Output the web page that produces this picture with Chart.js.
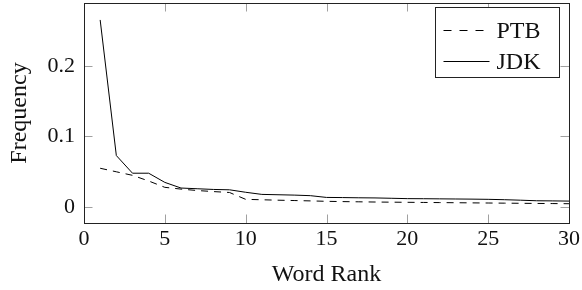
<!DOCTYPE html>
<html>
<head>
<meta charset="utf-8">
<script src="https://cdn.jsdelivr.net/npm/chart.js@4.4.1/dist/chart.umd.min.js"></script>
<style>
  html, body { margin: 0; padding: 0; background: #fff; }
  #wrap { width: 582px; height: 290px; }
</style>
</head>
<body>
<div id="wrap"><canvas id="freqChart"></canvas></div>
<script>
/* ===== data ===== */

const wordRanks = [1, 2, 3, 4, 5, 6, 7, 8, 9, 10, 11, 12, 13, 14, 15,
                   16, 17, 18, 19, 20, 21, 22, 23, 24, 25, 26, 27, 28, 29, 30];

const ptbFreq = [0.055, 0.050, 0.045, 0.037, 0.028, 0.0255, 0.0235, 0.022, 0.0207, 0.011,
                 0.0104, 0.0098, 0.0093, 0.0088, 0.0082, 0.0078, 0.0075, 0.0072, 0.007, 0.0068,
                 0.0066, 0.0064, 0.0062, 0.006, 0.0058, 0.0056, 0.0054, 0.0052, 0.005, 0.0048];

const jdkFreq = [0.265, 0.073, 0.048, 0.048, 0.035, 0.027, 0.026, 0.025, 0.0245, 0.021,
                 0.018, 0.0175, 0.017, 0.0162, 0.0137, 0.0135, 0.0132, 0.013, 0.0125, 0.012,
                 0.0119, 0.0117, 0.0115, 0.0113, 0.011, 0.0105, 0.0098, 0.009, 0.0088, 0.0085];

const xTicks = [0, 5, 10, 15, 20, 25, 30];
const yTicks = [0, 0.1, 0.2];

const seriesNames = ["PTB", "JDK"];

const FONT = "'Liberation Serif', 'DejaVu Serif', serif";

/* ===== frame, inward ticks and legend (pgfplots look) ===== */

const framePlugin = {
    id: "frame",
    afterDatasetsDraw(chart) {
        const c = chart.ctx;
        const a = chart.chartArea;
        const xs = chart.scales.x;
        const ys = chart.scales.y;
        const len = 8.5;

        c.save();
        c.strokeStyle = "#a0a0a0";
        c.lineWidth = 1;
        c.beginPath();
        xTicks.forEach(v => {
            const px = Math.round(xs.getPixelForValue(v)) + 0.5;
            c.moveTo(px, a.bottom); c.lineTo(px, a.bottom - len);
            c.moveTo(px, a.top); c.lineTo(px, a.top + len);
        });
        yTicks.forEach(v => {
            const py = Math.round(ys.getPixelForValue(v)) + 0.5;
            c.moveTo(a.left, py); c.lineTo(a.left + len, py);
            c.moveTo(a.right, py); c.lineTo(a.right - len, py);
        });
        c.stroke();

        c.strokeStyle = "#222";
        c.strokeRect(Math.round(a.left) + 0.5, Math.round(a.top) + 0.5,
                     Math.round(a.right - a.left), Math.round(a.bottom - a.top));

        // legend box, anchored north east inside the axis
        const bw = 124, bh = 70;
        const bx = Math.round(a.right - (a.right - a.left) * 0.02 - bw) + 0.5;
        const by = Math.round(a.top + (a.bottom - a.top) * 0.02) + 0.5;
        c.fillStyle = "#fff";
        c.fillRect(bx, by, bw, bh);
        c.strokeStyle = "#222";
        c.strokeRect(bx, by, bw, bh);

        chart.data.datasets.forEach((ds, i) => {
            const ry = Math.round(by + 22 + i * 31) + 0.5;
            c.strokeStyle = "#000";
            c.lineWidth = 1;
            c.setLineDash(ds.borderDash ? [8, 8] : []);
            c.beginPath();
            c.moveTo(bx + 8, ry);
            c.lineTo(bx + 54, ry);
            c.stroke();
            c.setLineDash([]);
            c.fillStyle = "#111";
            c.font = "24px " + FONT;
            c.textBaseline = "middle";
            c.fillText(ds.label, bx + 61, ry + 1);
        });
        c.restore();
    }
};

/* ===== chart ===== */

const ctx = document.getElementById("freqChart");

new Chart(ctx, {

    type: "line",

    data: {
        datasets: [
            {
                label: seriesNames[0],
                data: wordRanks.map((r, i) => ({ x: r, y: ptbFreq[i] })),
                borderColor: "#000",
                borderWidth: 1,
                borderDash: [7, 6],
                pointRadius: 0,
                tension: 0,
                fill: false
            },
            {
                label: seriesNames[1],
                data: wordRanks.map((r, i) => ({ x: r, y: jdkFreq[i] })),
                borderColor: "#000",
                borderWidth: 1,
                pointRadius: 0,
                tension: 0,
                fill: false
            }
        ]
    },

    options: {
        responsive: true,
        maintainAspectRatio: false,
        animation: false,
        layout: {
            padding: { top: 3, right: 13, left: 0, bottom: 0 }
        },
        plugins: {
            legend: { display: false },
            tooltip: { enabled: false }
        },
        scales: {
            x: {
                type: "linear",
                min: 0,
                max: 30,
                afterBuildTicks: s => { s.ticks = xTicks.map(v => ({ value: v })); },
                afterFit: s => {
                    s.height = 67;
                    s.paddingLeft = 0;
                    s.paddingRight = 0;
                },
                grid: { display: false, drawTicks: false },
                border: { display: false },
                ticks: {
                    color: "#111",
                    padding: 3,
                    maxRotation: 0,
                    font: { family: FONT, size: 22 }
                },
                title: {
                    display: true,
                    text: "Word Rank",
                    color: "#111",
                    padding: { top: 0, bottom: 1 },
                    font: { family: FONT, size: 24 }
                }
            },
            y: {
                type: "linear",
                min: -0.0225,
                max: 0.289,
                afterBuildTicks: s => { s.ticks = yTicks.map(v => ({ value: v })); },
                afterFit: s => {
                    s.width = 84;
                    s.paddingTop = 0;
                    s.paddingBottom = 0;
                },
                grid: { display: false, drawTicks: false },
                border: { display: false },
                ticks: {
                    color: "#111",
                    padding: 9,
                    font: { family: FONT, size: 22 },
                    callback: v => String(v)
                },
                title: {
                    display: true,
                    text: "Frequency",
                    color: "#111",
                    padding: { top: 5, bottom: 0 },
                    font: { family: FONT, size: 24 }
                }
            }
        }
    },

    plugins: [framePlugin]

});
</script>
</body>
</html>
